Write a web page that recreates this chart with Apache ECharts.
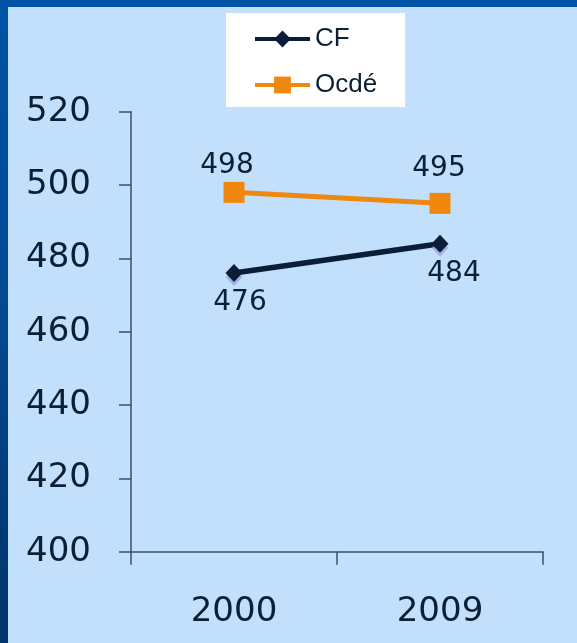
<!DOCTYPE html>
<html>
<head>
<meta charset="utf-8">
<script src="https://cdn.jsdelivr.net/npm/echarts@6/dist/echarts.min.js"></script>
<style>
  html, body { margin:0; padding:0; }
  body { background: linear-gradient(180deg, #0054A6 0%, #004A94 45%, #00346A 100%); }
  #chart { width:577px; height:643px; }
</style>
</head>
<body>
<div id="chart"></div>
<script>
const categories = ['2000', '2009'];
const seriesNames = ['CF', 'Ocdé'];
const cfValues = [476, 484];
const ocdeValues = [498, 495];
const yMin = 400, yMax = 520, yInterval = 20;

// label nudges (style, not data)
const cfLabelOffsets = [[6, 0], [14, 0]];
const ocdeLabelOffsets = [[-7, 0], [-1, -8]];

const textColor = '#0D1F33';
const axisColor = '#34506E';

const chart = echarts.init(document.getElementById('chart'), null, { renderer: 'canvas' });
chart.setOption({
  backgroundColor: 'transparent',
  animation: false,
  graphic: [{
    type: 'rect', z: -10, silent: true,
    shape: { x: 8, y: 7, width: 577, height: 643 },
    style: { fill: '#C2E0FC' }
  }],
  legend: {
    orient: 'vertical',
    left: 226, top: 13,
    backgroundColor: '#FFFFFF',
    padding: [13, 28, 9, 27],
    itemWidth: 55, itemHeight: 21, itemGap: 20,
    data: seriesNames,
    lineStyle: { width: 4 },
    textStyle: { fontFamily: 'Liberation Sans', fontSize: 26, color: textColor }
  },
  grid: { left: 131, right: 34, top: 111.7, bottom: 91.3, containLabel: false },
  xAxis: {
    type: 'category', data: categories, boundaryGap: true,
    axisLine: { lineStyle: { color: axisColor, width: 1.5 } },
    axisTick: { show: true, length: 13, lineStyle: { color: axisColor, width: 1.5 } },
    axisLabel: { margin: 43, fontFamily: 'DejaVu Sans', fontSize: 34, color: textColor },
    splitLine: { show: false }
  },
  yAxis: {
    type: 'value', min: yMin, max: yMax, interval: yInterval,
    axisLine: { show: true, lineStyle: { color: axisColor, width: 1.5 } },
    axisTick: { show: true, length: 12, lineStyle: { color: axisColor, width: 1.5 } },
    axisLabel: { margin: 40, fontFamily: 'DejaVu Sans', fontSize: 34, color: textColor },
    splitLine: { show: false }
  },
  series: [
    {
      name: seriesNames[0], type: 'line',
      data: cfValues.map((v, i) => ({ value: v, label: { offset: cfLabelOffsets[i] } })),
      symbol: 'diamond', symbolSize: [17, 18],
      lineStyle: { color: '#0A1E38', width: 5.5 },
      itemStyle: { color: '#0A1E38', shadowColor: 'rgba(150,140,215,0.6)', shadowOffsetY: 4, shadowBlur: 0 },
      label: { show: true, position: 'bottom', distance: 7, fontFamily: 'DejaVu Sans', fontSize: 28, color: textColor }
    },
    {
      name: seriesNames[1], type: 'line',
      data: ocdeValues.map((v, i) => ({ value: v, label: { offset: ocdeLabelOffsets[i] } })),
      symbol: 'rect', symbolSize: 21,
      lineStyle: { color: '#F0880F', width: 5 },
      itemStyle: { color: '#F0880F' },
      label: { show: true, position: 'top', distance: 2, fontFamily: 'DejaVu Sans', fontSize: 28, color: textColor }
    }
  ]
});
</script>
</body>
</html>
